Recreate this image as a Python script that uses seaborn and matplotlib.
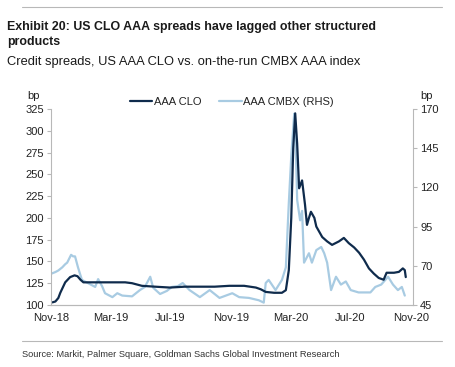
import pandas as pd
import matplotlib.pyplot as plt
import matplotlib.dates as mdates
import seaborn as sns

# AAA CLO spread (bp, left axis)
clo_dates = ['2018-11-03', '2018-11-09', '2018-11-15', '2018-11-19', '2018-11-29', '2018-12-09',
             '2018-12-18', '2018-12-24', '2018-12-30', '2019-01-05', '2019-01-29', '2019-02-28',
             '2019-03-31', '2019-04-14', '2019-05-04', '2019-05-31', '2019-06-30', '2019-07-30',
             '2019-08-30', '2019-09-29', '2019-10-29', '2019-11-28', '2019-12-22', '2020-01-01',
             '2020-01-11', '2020-01-28', '2020-02-13', '2020-02-21', '2020-02-27', '2020-03-03',
             '2020-03-07', '2020-03-11', '2020-03-15', '2020-03-19', '2020-03-25', '2020-03-31',
             '2020-04-04', '2020-04-08', '2020-04-12', '2020-04-19', '2020-04-23', '2020-05-05',
             '2020-05-15', '2020-05-25', '2020-06-08', '2020-06-18', '2020-06-28', '2020-07-09',
             '2020-07-19', '2020-07-29', '2020-08-08', '2020-08-18', '2020-08-28', '2020-09-07',
             '2020-09-13', '2020-09-28', '2020-10-08', '2020-10-16', '2020-10-20', '2020-10-22']
clo_values = [103, 104, 108, 114, 126, 132,
              134, 133, 129, 126, 126, 126,
              126, 125, 122, 121, 120, 121,
              121, 121, 122, 122, 120, 118,
              115, 114, 114, 117, 140, 200,
              280, 320, 285, 234, 243, 215,
              192, 200, 207, 200, 190, 178,
              173, 169, 173, 177, 171, 166,
              160, 152, 142, 136, 131, 129,
              137, 137, 138, 142, 140, 132]

# AAA CMBX spread (bp, right axis)
cmbx_dates = ['2018-11-01', '2018-11-09', '2018-11-15', '2018-11-23', '2018-11-29', '2018-12-03',
              '2018-12-11', '2018-12-15', '2018-12-19', '2018-12-25', '2019-01-02', '2019-01-14',
              '2019-01-29', '2019-02-04', '2019-02-12', '2019-02-18', '2019-03-05', '2019-03-15',
              '2019-03-25', '2019-04-14', '2019-04-30', '2019-05-10', '2019-05-21', '2019-05-27',
              '2019-06-10', '2019-06-24', '2019-07-04', '2019-07-16', '2019-07-26', '2019-08-09',
              '2019-08-30', '2019-09-19', '2019-10-09', '2019-11-04', '2019-11-18', '2019-12-08',
              '2019-12-28', '2020-01-07', '2020-01-11', '2020-01-17', '2020-01-31', '2020-02-13',
              '2020-02-21', '2020-02-27', '2020-03-03', '2020-03-09', '2020-03-11', '2020-03-15',
              '2020-03-21', '2020-03-25', '2020-03-29', '2020-04-08', '2020-04-14', '2020-04-23',
              '2020-05-03', '2020-05-09', '2020-05-15', '2020-05-23', '2020-06-02', '2020-06-12',
              '2020-06-22', '2020-07-02', '2020-07-18', '2020-08-11', '2020-08-21', '2020-09-02',
              '2020-09-16', '2020-09-26', '2020-10-06', '2020-10-14', '2020-10-20']
cmbx_values = [65, 66, 67, 69, 71, 72,
               77, 76, 76, 69, 61, 59,
               56.5, 61.5, 57, 52.5, 50, 52.5,
               51, 50.5, 54.5, 56.5, 63, 56,
               52, 54, 56.5, 57, 59, 54.5,
               50, 54.5, 49.5, 52.5, 50, 49.5,
               48, 46.5, 59, 61, 54.5, 61,
               69, 110, 140, 167, 160, 112,
               99, 105, 72, 78, 72, 80,
               82, 78, 72, 54.5, 63, 58,
               60, 54.5, 53, 53, 56.5, 58,
               63, 58, 54.5, 56.5, 51]

tick_dates = ['2018-11-01', '2019-03-01', '2019-07-01', '2019-11-01',
              '2020-03-01', '2020-07-01', '2020-11-01']

clo = pd.DataFrame({'date': pd.to_datetime(clo_dates), 'spread': clo_values})
cmbx = pd.DataFrame({'date': pd.to_datetime(cmbx_dates), 'spread': cmbx_values})

sns.set_style('white')
plt.rcParams['font.family'] = ['Liberation Sans', 'DejaVu Sans']

dark = '#0f2b4c'
light = '#a8cbe2'
grey = '#b8b8b8'

fig = plt.figure(figsize=(4.55, 3.67), dpi=100)
ax = fig.add_axes([0.112, 0.169, 0.796, 0.534])
ax2 = ax.twinx()

sns.lineplot(data=cmbx, x='date', y='spread', ax=ax2, color=light, linewidth=1.6)
sns.lineplot(data=clo, x='date', y='spread', ax=ax, color=dark, linewidth=1.6)
ax.set_zorder(ax2.get_zorder() + 1)
ax.patch.set_visible(False)

ax.set_ylim(100, 325)
ax.set_yticks(range(100, 326, 25))
ax2.set_ylim(45, 170)
ax2.set_yticks(range(45, 171, 25))
ax.set_xlim(pd.Timestamp('2018-10-31'), pd.Timestamp('2020-11-06'))
ax.set_xticks(pd.to_datetime(tick_dates))
ax.xaxis.set_major_formatter(mdates.DateFormatter('%b-%y'))

for a in (ax, ax2):
    a.set_xlabel('')
    a.set_ylabel('')
    a.spines['top'].set_visible(False)
    for s in ('left', 'right', 'bottom'):
        a.spines[s].set_color(grey)
        a.spines[s].set_linewidth(0.8)
    a.tick_params(axis='both', length=3, width=0.8, color=grey, labelsize=8, pad=2,
                  labelcolor='#222222')
ax.spines['right'].set_visible(False)
ax2.spines['left'].set_visible(False)
ax.tick_params(axis='x', pad=3)

# axis unit labels
fig.text(0.073, 0.738, 'bp', fontsize=8, color='#222222', ha='center', va='center')
fig.text(0.938, 0.738, 'bp', fontsize=8, color='#222222', ha='center', va='center')

# legend
handles = [plt.Line2D([], [], color=dark, linewidth=1.6),
           plt.Line2D([], [], color=light, linewidth=1.6)]
fig.legend(handles, ['AAA CLO', 'AAA CMBX (RHS)'], loc='center', bbox_to_anchor=(0.51, 0.722),
           ncol=2, frameon=False, fontsize=8, handlelength=2.0, handletextpad=0.15,
           columnspacing=1.6, labelcolor='#222222')

# titles and frame lines
fig.add_artist(plt.Line2D([0.048, 0.972], [0.981, 0.981], color=grey, linewidth=0.8))
fig.text(0.015, 0.926, 'Exhibit 20: US CLO AAA spreads have lagged other structured',
         fontsize=8.9, fontweight='bold', color='#1a1a1a', va='center')
fig.text(0.015, 0.885, 'products', fontsize=8.9, fontweight='bold',
         color='#1a1a1a', va='center')
fig.text(0.015, 0.831, 'Credit spreads, US AAA CLO vs. on-the-run CMBX AAA index',
         fontsize=9.3, color='#1a1a1a', va='center')
fig.add_artist(plt.Line2D([0.048, 0.972], [0.071, 0.071], color=grey, linewidth=0.8))
fig.text(0.048, 0.033, 'Source: Markit, Palmer Square, Goldman Sachs Global Investment Research',
         fontsize=6.7, color='#333333', va='center')

fig.savefig('out.png', dpi=100)
